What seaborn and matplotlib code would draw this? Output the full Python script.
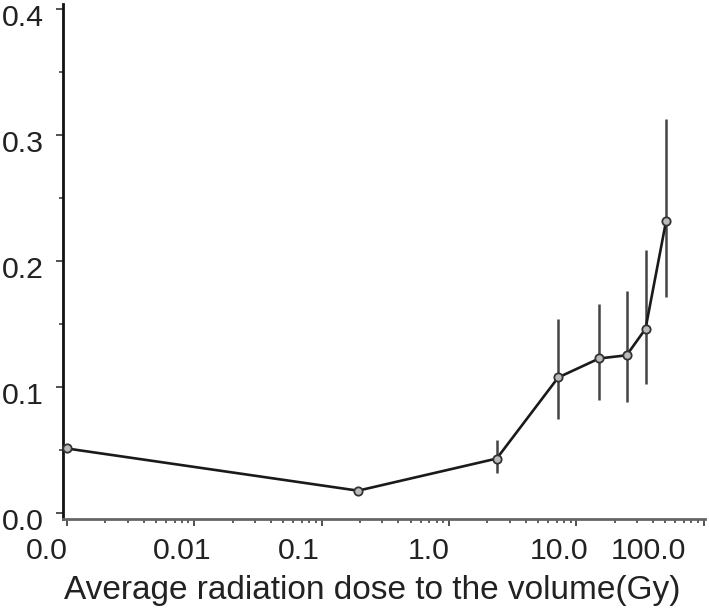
import matplotlib
matplotlib.use("Agg")
import matplotlib.pyplot as plt
import matplotlib.transforms as mtransforms
import seaborn as sns
import numpy as np
import pandas as pd
from matplotlib.ticker import FixedLocator, NullFormatter

# Data
dose = [0.001, 0.193, 2.37, 7.2, 15.1, 24.8, 34.9, 50.7]
risk = [0.051, 0.0175, 0.043, 0.1074, 0.1225, 0.125, 0.146, 0.232]
lower = [0.051, 0.0175, 0.0315, 0.0744, 0.0897, 0.0878, 0.102, 0.1712]
upper = [0.051, 0.0175, 0.0578, 0.154, 0.166, 0.176, 0.209, 0.3127]

xtick_labels = ["0.0", "0.01", "0.1", "1.0", "10.0", "100.0"]
xtick_label_pos = [10**-3.161, 10**-2.097, 10**-1.177, 10**-0.156, 10**0.865, 10**1.564]
decades = [0.001, 0.01, 0.1, 1, 10, 100]
ytick_vals = [0.0, 0.1, 0.2, 0.3, 0.4]
ytick_labels = ["0.0", "0.1", "0.2", "0.3", "0.4"]
xlabel = "Average radiation dose to the volume(Gy)"

sns.set_style("white")
plt.rcParams["font.family"] = ["Liberation Sans", "DejaVu Sans"]

df = pd.DataFrame({"dose": dose, "risk": risk})

fig = plt.figure(figsize=(7.09, 6.13), dpi=100)
ax = fig.add_axes([63/709, 1-519/613, (705-63)/709, (519-4)/613])

# error bars
ax.vlines(dose, lower, upper, colors="#444444", linewidth=1.8, zorder=2)
sns.lineplot(data=df, x="dose", y="risk", ax=ax, color="#1a1a1a", linewidth=1.9,
             marker="o", markersize=6, markerfacecolor="#bbbbbb",
             markeredgecolor="#333333", markeredgewidth=1.3, zorder=3,
             clip_on=False)

ax.set_xscale("log")
ax.set_xlim(10**-3.031, 10**2.01)
ax.set_ylim(-0.005, 0.404)

# x ticks: decade ticks + minor ticks (labels placed separately, offset as in reference)
ax.xaxis.set_major_locator(FixedLocator(decades))
ax.xaxis.set_major_formatter(NullFormatter())
minors = [m * d for d in decades[:-1] for m in range(2, 10)]
ax.xaxis.set_minor_locator(FixedLocator(minors))
ax.xaxis.set_minor_formatter(NullFormatter())
ax.tick_params(axis="x", which="major", direction="out", length=5, width=1.2,
               color="#333333", bottom=True)
ax.tick_params(axis="x", which="minor", direction="out", length=3, width=1.1,
               color="#333333", bottom=True)

trans = mtransforms.blended_transform_factory(ax.transData, ax.transAxes)
for pos, lab in zip(xtick_label_pos, xtick_labels):
    ax.text(pos, (519-551)/515, lab, transform=trans, ha="center", va="center",
            fontsize=21.8, color="#222222", clip_on=False)

ax.set_xlabel(xlabel, fontsize=24, color="#222222")
ax.xaxis.set_label_coords((372.5-63)/642, (519-575)/515)

# y ticks
ax.set_yticks(ytick_vals)
ax.set_yticklabels(ytick_labels)
ax.yaxis.set_minor_locator(FixedLocator([0.05, 0.15, 0.25, 0.35]))
ax.tick_params(axis="y", which="major", direction="out", length=5, width=1.2,
               color="#333333", left=True, labelsize=21.8, labelcolor="#222222", pad=9)
ax.tick_params(axis="y", which="minor", direction="out", length=3, width=1.1,
               color="#333333", left=True)
offset = mtransforms.ScaledTranslation(0, -6/100, fig.dpi_scale_trans)
for lab in ax.get_yticklabels():
    lab.set_transform(lab.get_transform() + offset)

ax.set_ylabel("")
for s in ["top", "right"]:
    ax.spines[s].set_visible(False)
ax.spines["left"].set_color("#111111")
ax.spines["left"].set_linewidth(2.0)
ax.spines["bottom"].set_color("#666666")
ax.spines["bottom"].set_linewidth(2.0)

fig.savefig("out.png", dpi=100, facecolor="white")
